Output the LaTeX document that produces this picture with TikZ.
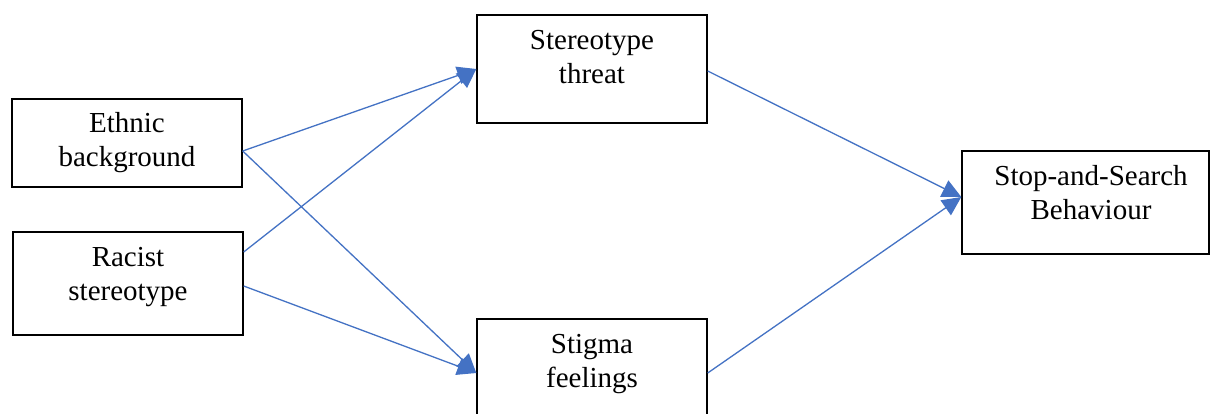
\documentclass[tikz,border=0pt]{standalone}
\usepackage{fontspec}
\setmainfont{Liberation Serif}
\usetikzlibrary{arrows.meta,calc}
\definecolor{arrowblue}{RGB}{68,114,196}
\tikzset{
  box/.style={draw=black,line width=1.4pt,rectangle,inner sep=0pt},
  lbl/.style={align=center,anchor=base,inner sep=0pt,font=\fontsize{29}{34}\selectfont},
  conn/.style={draw=arrowblue,line width=1.3pt,-{Triangle[length=19pt,width=18pt]}}
}
\begin{document}
\begin{tikzpicture}[x=1pt,y=-1pt]
\useasboundingbox (0,0) rectangle (1210,414);
\clip (0,0) rectangle (1210,414);
\fill[white] (0,0) rectangle (1210,414);
% boxes
\node[box,minimum width=230pt,minimum height=88pt] (eth) at (127,143) {};
\node[box,minimum width=230pt,minimum height=103pt] (rac) at (128,283.5) {};
\node[box,minimum width=230pt,minimum height=108pt] (thr) at (592,69) {};
\node[box,minimum width=230pt,minimum height=108pt] (stg) at (592,373) {};
\node[box,minimum width=247pt,minimum height=103pt] (stop) at (1085.5,202.5) {};
% labels (anchor = baseline of last line)
\node[lbl] (ethl) at (127,167) {Ethnic\\background};
\node[lbl] (racl) at (128,300) {Racist\\stereotype};
\node[lbl] (thrl) at (592,84) {Stereotype\\threat};
\node[lbl] (stgl) at (592,387) {Stigma\\feelings};
\node[lbl] (stopl) at (1091,219) {Stop-and-Search\\Behaviour};
% connector end points
\coordinate (ethO) at ($(eth.east)+(0,8)$);
\coordinate (racA) at ($(rac.east)+(0,-31.5)$);
\coordinate (racB) at ($(rac.east)+(0,2.5)$);
\coordinate (thrO) at ($(thr.east)+(0,2)$);
\coordinate (stopI) at ($(stop.west)+(0,-5.5)$);
% connectors
\draw[conn] (ethO) -- (thr.west);
\draw[conn] (ethO) -- (stg.west);
\draw[conn] (racA) -- (thr.west);
\draw[conn] (racB) -- (stg.west);
\draw[conn] (thrO) -- (stopI);
\draw[conn] (stg.east) -- (stopI);
\end{tikzpicture}
\end{document}
